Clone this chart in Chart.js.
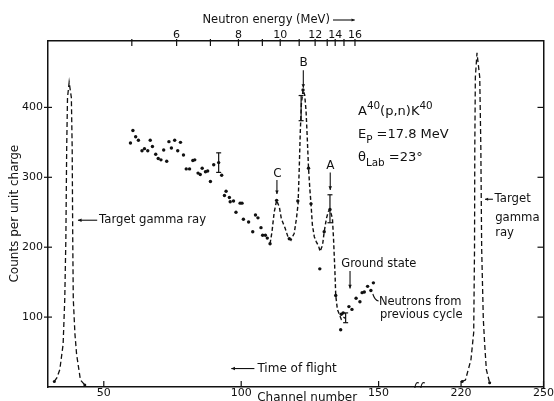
<!DOCTYPE html>
<html><head><meta charset="utf-8">
<script src="https://cdn.jsdelivr.net/npm/chart.js@4.4.1/dist/chart.umd.min.js"></script>
<style>html,body{margin:0;padding:0;background:#fff;}canvas{display:block;}</style>
</head><body>
<canvas id="c" width="554" height="401"></canvas>
<script>
// ---------------- data ----------------
// measured points (channel number, counts per unit charge)
const scatterChannels = [60.6,61.6,59.7,62.6,63.9,64.8,66.0,66.9,67.7,68.9,69.8,70.8,71.8,72.9,73.7,74.6,75.8,76.9,77.9,79.0,
  80.0,81.2,82.4,83.1,84.3,85.1,85.8,87.0,87.8,88.8,90.0,91.8,92.9,93.9,94.5,95.7,96.0,97.2,98.1,99.6,100.3,100.8,102.7,
  104.2,105.2,106.1,107.2,107.8,108.8,109.5,110.5,112.9,117.5,120.6,122.5,124.5,125.4,128.6,130.2,132.3,134.4,136.2,136.4,
  137.1,139.2,140.3,141.8,143.2,144.0,144.8,146.0,147.2,148.1];
const scatterCounts = [367,358,349,353,338,341,338,353,344,333,327,325,339,323,351,342,353,338,350,332,
  312,312,324,325,306,304,313,308,309,294,318,321,303,274,280,271,265,266,250,263,263,240,236,
  222,246,242,228,217,217,213,205,267,212,266,425,313,262,169,222,254,131,82,104,
  106,115,111,127,122,135,136,144,138,149];
// dashed curve through peaks C, B, A and the ground-state dip
const curveChannels = [110.5,111.2,112.0,112.9,113.9,114.6,115.3,116.0,117.0,118.1,119.3,120.1,120.7,121.1,121.5,121.9,122.5,
  123.1,123.6,124.0,124.5,125.0,125.4,125.9,126.6,127.3,128.2,128.7,129.6,130.2,131.0,131.7,132.3,133.2,133.6,133.9,134.2,
  134.4,135.0,135.6,136.4,137.1,138.0];
const curveCounts = [205,222,250,267,257,241,234,227,215,210,220,241,262,310,365,405,425,
  418,395,360,313,282,262,232,215,208,201,194,203,222,241,251,254,241,212,184,155,
  131,111,105,97,100,98];
// target gamma-ray peaks
const gammaLeftChannels = [32.0,32.9,34.0,35.2,35.8,36.2,36.5,36.8,37.4,38.2,38.5,38.7,38.9,39.5,40.1,41.5,43.1];
const gammaLeftCounts   = [8,13,25,61,126,212,342,414,436,414,342,212,126,76,47,10,3];
const gammaRightChannels = [220.4,221.6,223.6,224.6,224.9,225.0,225.2,225.8,226.8,227.2,227.5,228.1,228.6,229.2,230.4];
const gammaRightCounts   = [8,10,39,78,198,342,443,478,443,342,198,97,61,25,6];
// error bars
const errorChannels = [91.8,121.8,132.3,138.0];
const errorCounts   = [321,399,255,99];
const errorHalf     = [14,18,20,7];
// axis ticks
const xTickValues = [50,100,150,220,250];
const yTickValues = [100,200,300,400];
const energyTickValues   = [5,6,7,8,9,10,11,12,13,14,15,16];
const energyTickChannels = [60.2,76.5,88.8,99.0,107.7,114.2,121.1,126.9,131.3,134.2,137.4,141.4];
const energyLabelled     = [6,8,10,12,14,16];
// broken channel axis: channels 165..205 are cut out
const AXIS_BREAK = 165, BREAK_GAP = 40;
function disp(ch){ return ch > AXIS_BREAK ? ch - BREAK_GAP : ch; }

// ---------------- styling ----------------
const INK = '#111';
const FONT = "'DejaVu Sans', 'Liberation Sans', sans-serif";
const pts = (xs, ys) => xs.map((c, i) => ({x: disp(c), y: ys[i]}));
const endDots = n => ctx => (ctx.dataIndex === 0 || ctx.dataIndex === n - 1) ? 1.5 : 0;

const fixedTicks = (vals) => (s) => { s.ticks = vals.map(v => ({value: v})); };

const decor = {
  id: 'decor',
  afterDraw(chart) {
    const {ctx, chartArea: a, scales} = chart;
    const X = v => scales.x.getPixelForValue(v);
    const Y = v => scales.y.getPixelForValue(v);
    const line = (x1, y1, x2, y2) => { ctx.beginPath(); ctx.moveTo(x1, y1); ctx.lineTo(x2, y2); ctx.stroke(); };
    const arrow = (x1, y1, x2, y2, h = 4) => {
      line(x1, y1, x2, y2);
      const ang = Math.atan2(y2 - y1, x2 - x1);
      ctx.beginPath();
      ctx.moveTo(x2, y2);
      ctx.lineTo(x2 - h * Math.cos(ang - 0.45), y2 - h * Math.sin(ang - 0.45));
      ctx.lineTo(x2 - h * Math.cos(ang + 0.45), y2 - h * Math.sin(ang + 0.45));
      ctx.closePath(); ctx.fill();
    };
    const text = (s, x, y, size = 12, align = 'left') => {
      ctx.font = size + 'px ' + FONT; ctx.textAlign = align; ctx.textBaseline = 'middle';
      ctx.fillText(s, x, y);
      return ctx.measureText(s).width;
    };
    // rich text: segments [str, mode] mode: 0 normal, 1 sup, -1 sub
    const rich = (segs, x, y, size = 12) => {
      ctx.textAlign = 'left'; ctx.textBaseline = 'middle';
      let cx = x;
      segs.forEach(([s, m]) => {
        const sz = m ? size * 0.8 : size;
        ctx.font = sz + 'px ' + FONT;
        ctx.fillText(s, cx, y - m * size * 0.42);
        cx += ctx.measureText(s).width;
      });
    };
    ctx.save();
    ctx.strokeStyle = INK; ctx.fillStyle = INK; ctx.lineWidth = 1.2;

    // tick marks (from the library's scales)
    scales.y.ticks.forEach(t => { const py = Y(t.value); line(a.left - 4, py, a.left + 4, py); });
    scales.y2.ticks.forEach(t => { const py = scales.y2.getPixelForValue(t.value); line(a.right - 6, py, a.right, py); });
    scales.x.ticks.forEach(t => { const px = X(t.value); line(px, a.bottom, px, a.bottom - 6); });
    scales.x2.ticks.forEach(t => { const px = scales.x2.getPixelForValue(t.value); line(px, a.top - 2, px, a.top + 5); });

    // axis break mark
    const bx = X(AXIS_BREAK);
    ctx.lineWidth = 1.1;
    [-3, 3].forEach(o => {
      ctx.beginPath();
      ctx.moveTo(bx + o - 2, a.bottom + 1);
      ctx.quadraticCurveTo(bx + o - 1, a.bottom - 6, bx + o + 2, a.bottom - 4);
      ctx.stroke();
    });

    // error bars
    ctx.lineWidth = 1.2;
    errorChannels.forEach((c, i) => {
      const px = X(disp(c)), y1 = Y(errorCounts[i] + errorHalf[i]), y2 = Y(errorCounts[i] - errorHalf[i]);
      line(px, y1, px, y2); line(px - 2.5, y1, px + 2.5, y1); line(px - 2.5, y2, px + 2.5, y2);
    });

    // peak labels and arrows
    ctx.lineWidth = 1.1;
    text('C', X(113.2), Y(305), 12, 'center'); arrow(X(113.0), Y(296), X(113.0), Y(276));
    text('B', X(122.7), Y(463), 12, 'center'); arrow(X(122.6), Y(453), X(122.6), Y(428));
    text('A', X(132.4), Y(316), 12, 'center'); arrow(X(132.4), Y(307), X(132.4), Y(282));
    text('Ground state', X(136.4), Y(176.5), 11.5);
    arrow(X(139.6), Y(166), X(139.6), Y(141));
    text('Neutrons from', X(150.1), Y(121.6), 11.5);
    text('previous cycle', X(150.5), Y(102.8), 11.5);
    ctx.beginPath(); ctx.moveTo(X(147.9), Y(133)); ctx.quadraticCurveTo(X(148.6), Y(124), X(150.0), Y(123)); ctx.stroke();

    // target gamma ray notes
    arrow(X(47.6), Y(238.6), X(40.6), Y(238.6));
    text('Target gamma ray', X(48.3), Y(238.6), 11.7);
    arrow(X(191.6), Y(268.6), X(188.7), Y(268.6), 3.5);
    text('Target', X(192.2), Y(268.6), 11.7);
    text('gamma', X(192.4), Y(241.4), 11.7);
    text('ray', X(192.4), Y(220), 11.7);

    // reaction info
    rich([['A',0],['40',1],['(p,n)K',0],['40',1]], X(142.5), Y(394), 13);
    rich([['E',0],['P',-1],[' =17.8 MeV',0]], X(142.5), Y(361), 13);
    rich([['\u03B8',0],['Lab',-1],[' =23\u00B0',0]], X(142.5), Y(328), 13);

    // time of flight
    arrow(X(104.8), Y(26.4), X(96.4), Y(26.4));
    text('Time of flight', X(105.9), Y(26.4), 12);

    // axis titles
    text('Channel number', X(124), a.bottom + 11, 12, 'center');
    const tx = X(85.9), ty = a.top - 21;
    const tw = text('Neutron energy (MeV)', tx, ty, 11.5);
    arrow(tx + tw + 3, ty, X(141.3), ty, 3.5);
    ctx.save();
    ctx.translate(X(17.7), Y(248));
    ctx.rotate(-Math.PI / 2);
    text('Counts per unit charge', 0, 0, 12, 'center');
    ctx.restore();

    ctx.restore();
  }
};

const axisCommon = {
  type: 'linear',
  grid: {display: true, drawOnChartArea: false, drawTicks: false},
  border: {display: true, color: INK, width: 1.5},
};

new Chart(document.getElementById('c'), {
  type: 'scatter',
  data: {
    datasets: [
      {data: pts(scatterChannels, scatterCounts), showLine: false, pointRadius: 1.7,
       pointBackgroundColor: INK, pointBorderWidth: 0},
      {data: pts(curveChannels, curveCounts), showLine: true, borderColor: INK, borderWidth: 1.4,
       borderDash: [4, 2.5], pointRadius: 0, tension: 0},
      {data: pts(gammaLeftChannels, gammaLeftCounts), showLine: true, borderColor: INK, borderWidth: 1.3,
       borderDash: [5, 3], pointRadius: endDots(gammaLeftChannels.length), pointBackgroundColor: INK, pointBorderWidth: 0, tension: 0},
      {data: pts(gammaRightChannels, gammaRightCounts), showLine: true, borderColor: INK, borderWidth: 1.3,
       borderDash: [5, 3], pointRadius: endDots(gammaRightChannels.length), pointBackgroundColor: INK, pointBorderWidth: 0, tension: 0}
    ]
  },
  options: {
    responsive: false, animation: false, devicePixelRatio: 1,
    layout: {padding: 0},
    plugins: {legend: {display: false}, tooltip: {enabled: false}},
    scales: {
      x: {...axisCommon, position: 'bottom', min: 29.7, max: 210,
          afterBuildTicks: fixedTicks(xTickValues.map(disp)),
          afterFit: s => { s.height = 14; },
          ticks: {autoSkip: false, maxRotation: 0, padding: 0, color: INK, font: {family: FONT, size: 11},
                  callback: v => { const i = xTickValues.map(disp).indexOf(v); return i >= 0 ? String(xTickValues[i]) : ''; }}},
      x2: {...axisCommon, position: 'top', min: 29.7, max: 210,
          afterBuildTicks: fixedTicks(energyTickChannels),
          afterFit: s => { s.height = 41; },
          ticks: {autoSkip: false, maxRotation: 0, padding: -1, color: INK, font: {family: FONT, size: 11},
                  callback: v => { const i = energyTickChannels.indexOf(v); const e = energyTickValues[i];
                                   return energyLabelled.includes(e) ? String(e) : ''; }}},
      y: {...axisCommon, position: 'left', min: 0, max: 495,
          afterBuildTicks: fixedTicks(yTickValues),
          afterFit: s => { s.width = 48; },
          ticks: {padding: 5, color: INK, font: {family: FONT, size: 11}}},
      y2: {...axisCommon, position: 'right', min: 0, max: 495,
          afterBuildTicks: fixedTicks(yTickValues),
          afterFit: s => { s.width = 9; },
          ticks: {display: false}}
    }
  },
  plugins: [decor]
});
</script>
</body></html>
